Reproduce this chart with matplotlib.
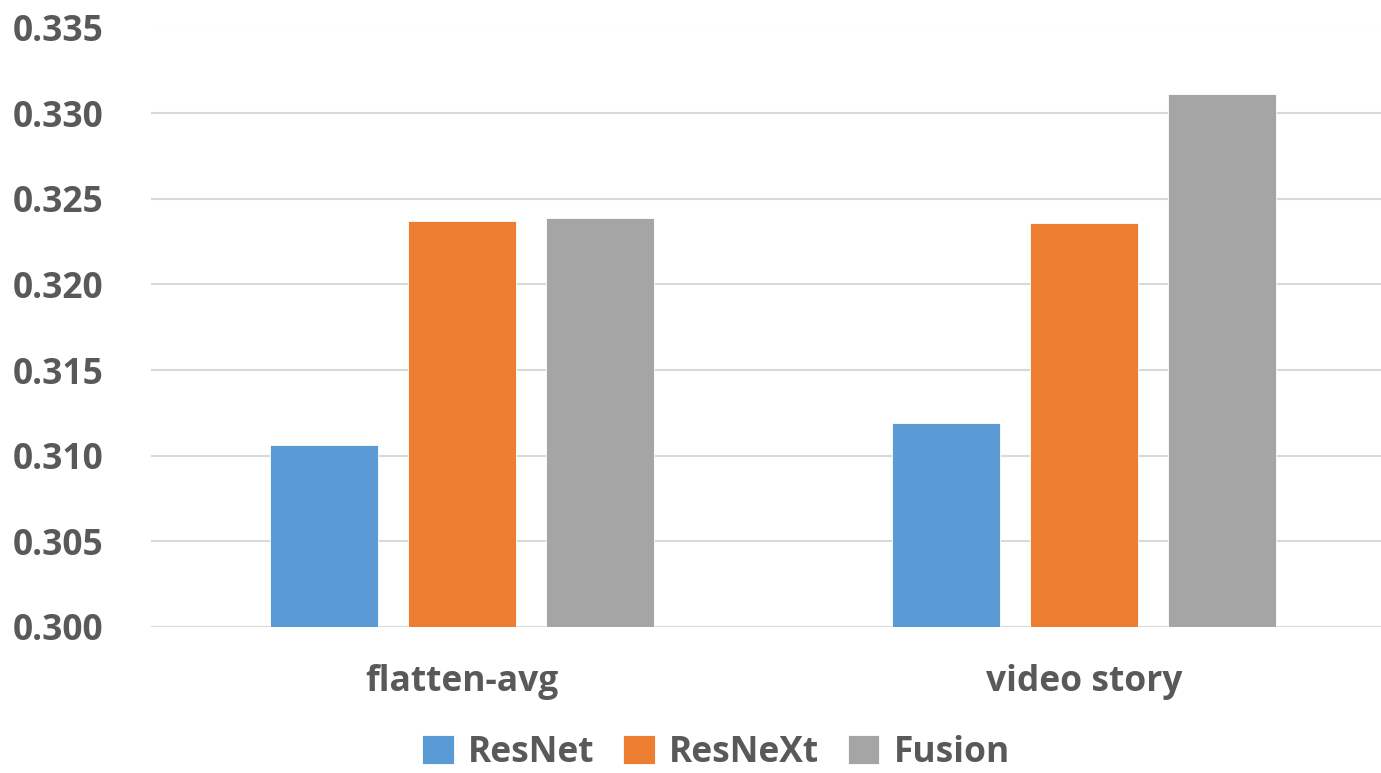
import matplotlib.pyplot as plt
import numpy as np

# dados
categorias = ['flatten-avg', 'video story']
series = ['ResNet', 'ResNeXt', 'Fusion']
resnet = [0.3106, 0.3119]
resnext = [0.3237, 0.3236]
fusion = [0.3239, 0.3311]
yticks = [0.300, 0.305, 0.310, 0.315, 0.320, 0.325, 0.330, 0.335]

cores = ['#5B9BD5', '#ED7D31', '#A5A5A5']
texto = '#595959'
plt.rcParams['font.family'] = ['Open Sans', 'DejaVu Sans']
plt.rcParams['font.weight'] = 'bold'
fs = 25.5

fig = plt.figure(figsize=(13.81, 7.73), dpi=100)
ax = fig.add_axes([151 / 1381, 146 / 773, 1244 / 1381, 599.5 / 773])

x = np.arange(len(categorias))
largura = 0.1736
passo = 0.2219
for i, (nome, vals) in enumerate(zip(series, [resnet, resnext, fusion])):
    ax.bar(x + (i - 1) * passo, vals, largura, color=cores[i], label=nome,
           edgecolor='white', linewidth=0.6, zorder=3)

ax.set_ylim(0.300, 0.335)
ax.set_xlim(-0.5, 1.5)
ax.set_yticks(yticks)
ax.set_yticklabels(['%.3f' % v for v in yticks])
ax.set_xticks(x)
ax.set_xticklabels(categorias)
ax.yaxis.grid(True, color='#D9D9D9', linewidth=1.5, zorder=0)
ax.tick_params(axis='both', length=0, labelsize=fs, colors=texto)
# rotulos do eixo Y alinhados a esquerda (pad em pontos)
ax.tick_params(axis='y', pad=(151 - 13) * 0.72)
for lbl in ax.get_yticklabels():
    lbl.set_horizontalalignment('left')
ax.tick_params(axis='x', pad=27)
for s in ax.spines.values():
    s.set_visible(False)

leg = fig.legend(loc='center', bbox_to_anchor=(716 / 1381, 20 / 773), ncol=3,
                 frameon=False, fontsize=fs, handlelength=0.9, handleheight=0.9,
                 handletextpad=0.4, columnspacing=0.8, borderpad=0.2)
for t in leg.get_texts():
    t.set_color(texto)

fig.savefig('out.png', dpi=100)
